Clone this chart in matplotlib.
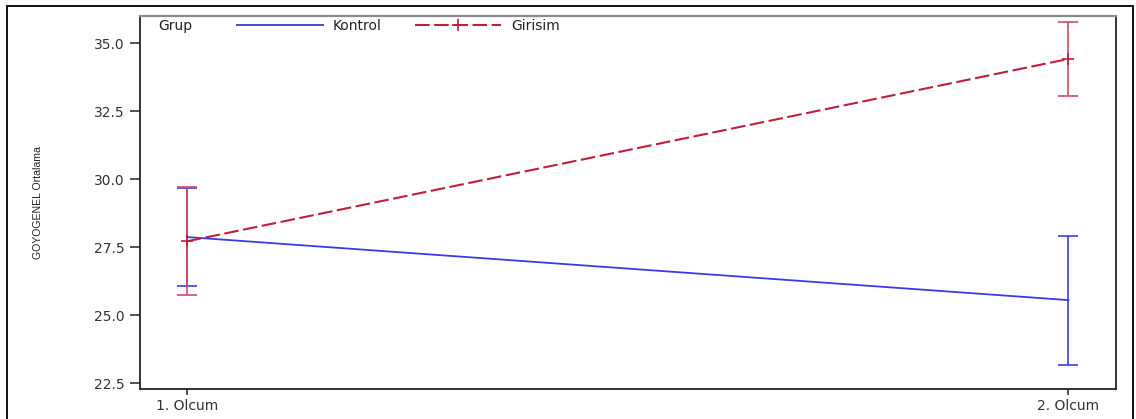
import matplotlib
matplotlib.use("Agg")
import matplotlib.pyplot as plt
from matplotlib.patches import Rectangle
from matplotlib import font_manager

# Measurement occasions and group means with their error half-widths
occasions = ["1. Olcum", "2. Olcum"]
groups = ["Kontrol", "Girisim"]
kontrol_mean = [27.87, 25.55]
kontrol_err = [1.81, 2.37]
girisim_mean = [27.71, 34.42]
girisim_err = [1.99, 1.36]
y_ticks = [22.5, 25.0, 27.5, 30.0, 32.5, 35.0]

names = {f.name for f in font_manager.fontManager.ttflist}
label_font = "Liberation Sans" if "Liberation Sans" in names else "DejaVu Sans"
plt.rcParams["font.family"] = ["DejaVu Sans"]

W, H = 1136, 419
fig = plt.figure(figsize=(W / 100, H / 100), dpi=100)
ax = fig.add_axes([140 / W, 1 - 389 / H, (1116 - 140) / W, (389 - 16) / H])

# outer frame around the whole chart (open at the bottom edge)
fig.patches.append(Rectangle((7 / W, -0.05), (1133 - 7) / W, 1 - 6 / H + 0.05,
                             transform=fig.transFigure, fill=False,
                             edgecolor="#111111", linewidth=1.4))

x = list(range(len(occasions)))
blue = "#3a3ae8"
red = "#c01f3c"
red_bar = "#cf4a64"
fs = 10

ax.errorbar(x, kontrol_mean, yerr=kontrol_err, fmt="none", ecolor=blue,
            elinewidth=1.3, capsize=7.5, capthick=1.3, alpha=0.9, zorder=2)
ax.errorbar(x, girisim_mean, yerr=girisim_err, fmt="none", ecolor=red_bar,
            elinewidth=1.3, capsize=7.5, capthick=1.3, alpha=0.9, zorder=2)

l1, = ax.plot(x, kontrol_mean, color=blue, linewidth=1.3, zorder=3, label=groups[0])
l2, = ax.plot(x, girisim_mean, color=red, linewidth=1.5, dashes=(7, 2.2),
              marker="+", markersize=9, markeredgewidth=1.2, zorder=3, label=groups[1])

ax.set_xlim(-0.053, 1.054)
ax.set_ylim(22.28, 36.0)
ax.set_xticks(x)
ax.set_xticklabels(occasions)
ax.set_yticks(y_ticks)
ax.set_yticklabels([f"{v:.1f}" for v in y_ticks])
ax.tick_params(axis="both", direction="out", labelsize=fs, colors="#222222",
               labelcolor="#333333", width=1.1)
ax.tick_params(axis="y", length=7, pad=4)
ax.tick_params(axis="x", length=4, pad=3)

for side in ["left", "bottom", "right"]:
    ax.spines[side].set_color("#222222")
    ax.spines[side].set_linewidth(1.3)
ax.spines["top"].set_color("#8a8a8a")
ax.spines["top"].set_linewidth(1.6)

ax.set_ylabel("GOYOGENEL Ortalama", fontsize=7.6, fontfamily=label_font,
              color="#222222")
ax.yaxis.set_label_coords((43 - 140) / 976, 0.5)

ax.text(18 / 976, 0.973, "Grup", transform=ax.transAxes, fontsize=fs,
        color="#222222", va="center", ha="left")
ax.legend(handles=[l1, l2], loc="center left", bbox_to_anchor=(97 / 976, 0.973),
          ncol=2, frameon=False, fontsize=fs, handlelength=6.2,
          handletextpad=0.72, columnspacing=2.4, borderaxespad=0, borderpad=0,
          labelcolor="#222222")

fig.savefig("out.png", dpi=100)
